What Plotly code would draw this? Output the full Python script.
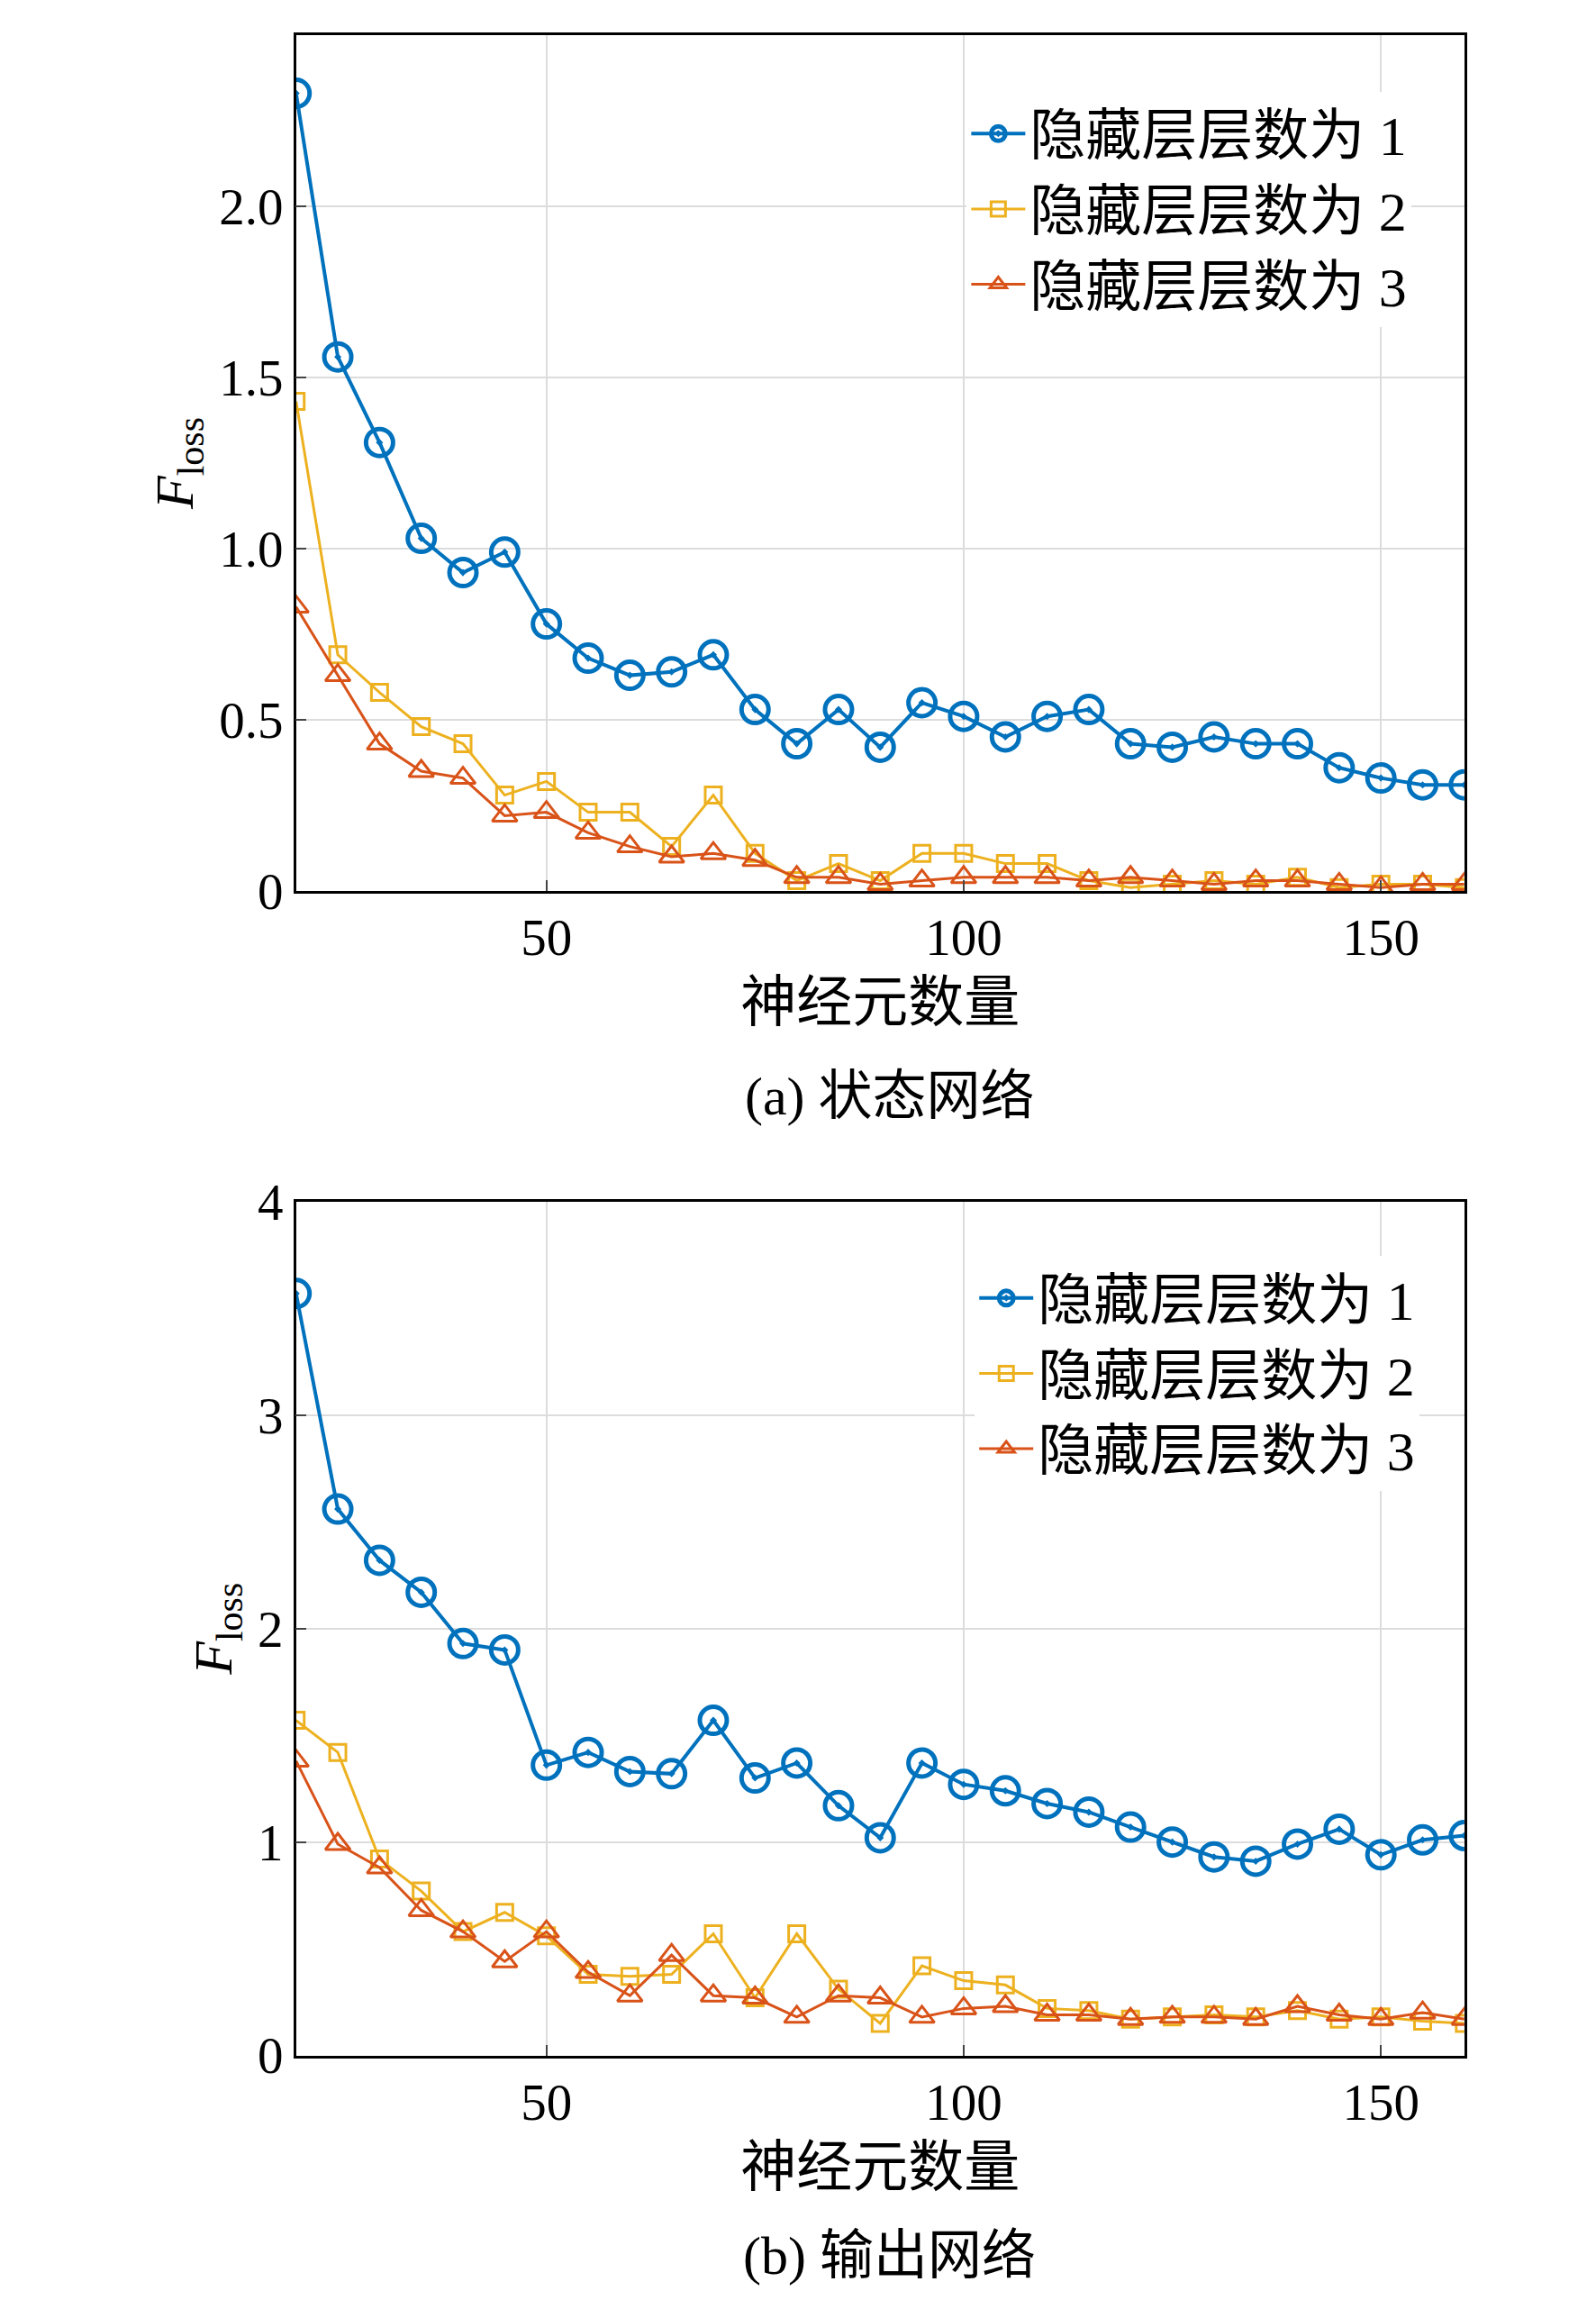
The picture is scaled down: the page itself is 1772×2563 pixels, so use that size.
import plotly.graph_objects as go

neurons = list(range(20, 161, 5))

state_1 = [2.33, 1.56, 1.31, 1.03, 0.93, 0.99, 0.78, 0.68, 0.63, 0.64, 0.69, 0.53, 0.43, 0.53, 0.42,
           0.55, 0.51, 0.45, 0.51, 0.53, 0.43, 0.42, 0.45, 0.43, 0.43, 0.36, 0.33, 0.31, 0.31]
state_2 = [1.43, 0.69, 0.58, 0.48, 0.43, 0.28, 0.32, 0.23, 0.23, 0.13, 0.28, 0.11, 0.03, 0.08, 0.03,
           0.11, 0.11, 0.08, 0.08, 0.03, 0.01, 0.02, 0.03, 0.02, 0.04, 0.01, 0.02, 0.02, 0.01]
state_3 = [0.83, 0.63, 0.43, 0.35, 0.33, 0.22, 0.23, 0.17, 0.13, 0.10, 0.11, 0.09, 0.04, 0.04, 0.02,
           0.03, 0.04, 0.04, 0.04, 0.03, 0.04, 0.03, 0.02, 0.03, 0.03, 0.02, 0.01, 0.02, 0.02]

out_1 = [3.57, 2.56, 2.32, 2.17, 1.93, 1.90, 1.36, 1.42, 1.33, 1.32, 1.57, 1.30, 1.37, 1.17, 1.02,
         1.37, 1.27, 1.24, 1.18, 1.14, 1.07, 1.00, 0.93, 0.91, 0.99, 1.06, 0.94, 1.01, 1.03]
out_2 = [1.57, 1.42, 0.92, 0.77, 0.58, 0.67, 0.56, 0.38, 0.37, 0.38, 0.57, 0.27, 0.57, 0.31, 0.15,
         0.42, 0.35, 0.33, 0.22, 0.21, 0.17, 0.18, 0.19, 0.18, 0.21, 0.17, 0.18, 0.16, 0.15]
out_3 = [1.38, 0.99, 0.88, 0.68, 0.58, 0.44, 0.58, 0.39, 0.28, 0.47, 0.28, 0.27, 0.18, 0.28, 0.27,
         0.18, 0.22, 0.23, 0.19, 0.19, 0.17, 0.18, 0.18, 0.17, 0.23, 0.19, 0.17, 0.20, 0.17]

names = ["隐藏层层数为 1", "隐藏层层数为 2", "隐藏层层数为 3"]
colors = ["#0072BD", "#EDB120", "#D95319"]
symbols = ["circle-open-dot", "square-open", "triangle-up-open"]
sizes = [30, 18, 24]

FONT = "Liberation Serif, Times New Roman, Noto Sans CJK SC"

fig = go.Figure()
for ax, series in (("", [state_1, state_2, state_3]), ("2", [out_1, out_2, out_3])):
    for i, ys in enumerate(series):
        fig.add_trace(go.Scatter(
            x=neurons, y=ys, mode="lines+markers", name=names[i],
            xaxis="x" + ax, yaxis="y" + ax, legend="legend" if ax == "" else "legend2",
            line=dict(color=colors[i], width=4 if i == 0 else 3),
            marker=dict(symbol=symbols[i], size=sizes[i], color=colors[i],
                        line=dict(color=colors[i], width=5 if i == 0 else 3)),
        ))

xcommon = dict(range=[20, 160], tickvals=[50, 100, 150], showgrid=True, gridcolor="#DCDCDC",
               gridwidth=1.5, ticks="inside", ticklen=12, tickwidth=2, showline=True,
               linecolor="black", linewidth=2.5, mirror=True, zeroline=False,
               tickfont=dict(size=57, family=FONT, color="black"),
               title=dict(text="神经元数量", font=dict(size=62, family=FONT, color="black"), standoff=20))
ycommon = dict(showgrid=True, gridcolor="#DCDCDC", gridwidth=1.5, ticks="inside", ticklen=12,
               tickwidth=2, showline=True, linecolor="black", linewidth=2.5, mirror=True,
               zeroline=False, tickfont=dict(size=57, family=FONT, color="black"),
               title=dict(text="<i>F</i><sub>loss</sub>", font=dict(size=60, family=FONT, color="black"),
                          standoff=10))
legcommon = dict(font=dict(size=62, family=FONT, color="black"), bgcolor="white",
                 xanchor="right", yanchor="top", tracegroupgap=0, itemwidth=60)

fig.update_layout(
    width=1772, height=2563, margin=dict(l=0, r=0, t=0, b=0),
    plot_bgcolor="white", paper_bgcolor="white", showlegend=True,
    xaxis=dict(domain=[0.181, 0.913], anchor="y", **xcommon),
    yaxis=dict(domain=[0.620, 1.0], anchor="x", range=[0, 2.5],
               tickvals=[0, 0.5, 1, 1.5, 2, 2.5], ticktext=["0", "0.5", "1.0", "1.5", "2.0", "2.5"],
               **ycommon),
    xaxis2=dict(domain=[0.181, 0.913], anchor="y2", **xcommon),
    yaxis2=dict(domain=[0.103, 0.482], anchor="x2", range=[0, 4], tickvals=[0, 1, 2, 3, 4], **ycommon),
    legend=dict(x=0.88, y=0.975, **legcommon),
    legend2=dict(x=0.885, y=0.458, **legcommon),
    annotations=[
        dict(text="(a) 状态网络", x=0.553, y=0.529, xref="paper", yref="paper", yanchor="middle",
             showarrow=False, font=dict(size=60, family=FONT, color="black")),
        dict(text="(b) 输出网络", x=0.553, y=0.014, xref="paper", yref="paper", yanchor="middle",
             showarrow=False, font=dict(size=60, family=FONT, color="black")),
    ],
)

fig.write_html("out.html")
